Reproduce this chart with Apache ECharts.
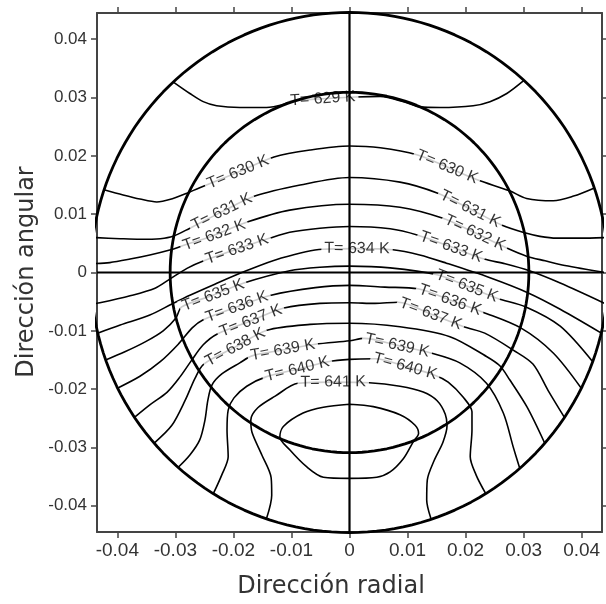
<!DOCTYPE html>
<html>
<head>
<meta charset="utf-8">
<script src="https://cdn.jsdelivr.net/npm/echarts@6/dist/echarts.min.js"></script>
<style>
  html, body { margin: 0; padding: 0; background: #ffffff; }
  #chart { width: 606px; height: 604px; }
</style>
</head>
<body>
<div id="chart"></div>
<script>
// Axis extents and tick values
const xRange = [-0.0435, 0.0435];
const yRange = [-0.0445, 0.0445];
const tickValues = [-0.04, -0.03, -0.02, -0.01, 0, 0.01, 0.02, 0.03, 0.04];

// Radii of the two boundary circles (inner tube wall, outer wall)
const ringRadii = [0.0309, 0.0446];

// Isotherms [radial, angular]
const iso629 = [[-0.0304,0.0327],[-0.0275,0.0307],[-0.0252,0.0293],[-0.0229,0.0286],[-0.0189,0.0283],[-0.0143,0.0283],[-0.0114,0.0288],[-0.0101,0.0294],[-0.0046,0.0298],[0.0011,0.0301],[0.0053,0.0302],[0.0096,0.0292],[0.0121,0.0284],[0.0156,0.0283],[0.0213,0.0286],[0.0242,0.0293],[0.0271,0.0307],[0.0300,0.0329]];
const iso630 = [[-0.0423,0.0142],[-0.0390,0.0133],[-0.0361,0.0126],[-0.0332,0.0121],[-0.0304,0.0127],[-0.0280,0.0136],[-0.0259,0.0145],[-0.0192,0.0172],[-0.0130,0.0198],[-0.0068,0.0210],[0,0.0217],[0.0053,0.0214],[0.0116,0.0202],[0.0168,0.0181],[0.0220,0.0159],[0.0276,0.0140],[0.0305,0.0127],[0.0351,0.0123],[0.0386,0.0131],[0.0422,0.0145]];
const iso631 = [[-0.0442,0.0060],[-0.0395,0.0058],[-0.0361,0.0057],[-0.0326,0.0058],[-0.0304,0.0062],[-0.0275,0.0076],[-0.0220,0.0104],[-0.0163,0.0131],[-0.0085,0.0150],[0,0.0163],[0.0087,0.0155],[0.0152,0.0136],[0.0208,0.0109],[0.0263,0.0081],[0.0302,0.0068],[0.0328,0.0062],[0.0357,0.0059],[0.0397,0.0059],[0.0442,0.0060]];
const iso632 = [[-0.0445,0.0015],[-0.0413,0.0017],[-0.0378,0.0023],[-0.0344,0.0030],[-0.0308,0.0039],[-0.0290,0.0045],[-0.0233,0.0064],[-0.0175,0.0087],[-0.0103,0.0107],[0,0.0117],[0.0087,0.0112],[0.0161,0.0093],[0.0216,0.0068],[0.0271,0.0042],[0.0305,0.0028],[0.0337,0.0020],[0.0371,0.0012],[0.0446,-0.0001]];
const iso633 = [[-0.0443,-0.0054],[-0.0430,-0.0052],[-0.0378,-0.0040],[-0.0335,-0.0027],[-0.0309,-0.0011],[-0.0280,0.0007],[-0.0251,0.0020],[-0.0194,0.0040],[-0.0137,0.0059],[-0.0103,0.0069],[-0.0051,0.0076],[0,0.0079],[0.0070,0.0075],[0.0118,0.0064],[0.0175,0.0044],[0.0232,0.0023],[0.0268,0.0015],[0.0310,0.0003],[0.0363,-0.0018],[0.0442,-0.0054]];
const iso634 = [[-0.0434,-0.0104],[-0.0395,-0.0090],[-0.0344,-0.0073],[-0.0306,-0.0054],[-0.0275,-0.0039],[-0.0232,-0.0020],[-0.0180,0.0002],[-0.0120,0.0024],[-0.0047,0.0040],[0.0013,0.0041],[0.0075,0.0039],[0.0121,0.0030],[0.0167,0.0016],[0.0242,-0.0009],[0.0308,-0.0035],[0.0363,-0.0063],[0.0434,-0.0104]];
const iso635 = [[-0.0420,-0.0150],[-0.0387,-0.0136],[-0.0352,-0.0119],[-0.0321,-0.0100],[-0.0299,-0.0078],[-0.0289,-0.0059],[-0.0235,-0.0039],[-0.0182,-0.0018],[-0.0103,0.0003],[-0.0051,0.0009],[0,0.0011],[0.0070,0.0008],[0.0151,-0.0004],[0.0202,-0.0023],[0.0254,-0.0044],[0.0304,-0.0059],[0.0363,-0.0092],[0.0419,-0.0153]];
const iso636 = [[-0.0399,-0.0198],[-0.0361,-0.0178],[-0.0326,-0.0153],[-0.0295,-0.0123],[-0.0271,-0.0095],[-0.0252,-0.0081],[-0.0194,-0.0059],[-0.0135,-0.0039],[-0.0059,-0.0026],[0,-0.0022],[0.0061,-0.0025],[0.0118,-0.0028],[0.0173,-0.0047],[0.0230,-0.0068],[0.0295,-0.0095],[0.0351,-0.0138],[0.0399,-0.0198]];
const iso637 = [[-0.0370,-0.0248],[-0.0344,-0.0227],[-0.0314,-0.0205],[-0.0292,-0.0179],[-0.0273,-0.0152],[-0.0252,-0.0124],[-0.0227,-0.0105],[-0.0170,-0.0083],[-0.0113,-0.0061],[-0.0051,-0.0053],[0,-0.0052],[0.0044,-0.0053],[0.0084,-0.0051],[0.0140,-0.0071],[0.0197,-0.0093],[0.0233,-0.0104],[0.0282,-0.0133],[0.0316,-0.0157],[0.0342,-0.0202],[0.0370,-0.0248]];
const iso638 = [[-0.0336,-0.0292],[-0.0306,-0.0262],[-0.0283,-0.0219],[-0.0266,-0.0181],[-0.0251,-0.0157],[-0.0197,-0.0128],[-0.0142,-0.0099],[-0.0068,-0.0089],[0,-0.0087],[0.0087,-0.0093],[0.0173,-0.0110],[0.0236,-0.0144],[0.0259,-0.0160],[0.0276,-0.0184],[0.0306,-0.0231],[0.0336,-0.0292]];
const iso639 = [[-0.0295,-0.0334],[-0.0275,-0.0313],[-0.0258,-0.0287],[-0.0249,-0.0253],[-0.0244,-0.0219],[-0.0237,-0.0193],[-0.0220,-0.0174],[-0.0189,-0.0155],[-0.0168,-0.0143],[-0.0115,-0.0133],[-0.0059,-0.0123],[0,-0.0117],[0.0025,-0.0113],[0.0082,-0.0125],[0.0140,-0.0138],[0.0190,-0.0155],[0.0236,-0.0190],[0.0265,-0.0241],[0.0282,-0.0299],[0.0293,-0.0335]];
const iso640 = [[-0.0234,-0.0378],[-0.0220,-0.0347],[-0.0209,-0.0316],[-0.0211,-0.0270],[-0.0209,-0.0236],[-0.0199,-0.0215],[-0.0177,-0.0195],[-0.0144,-0.0179],[-0.0090,-0.0166],[-0.0037,-0.0153],[0,-0.0149],[0.0044,-0.0148],[0.0096,-0.0161],[0.0147,-0.0176],[0.0170,-0.0188],[0.0196,-0.0214],[0.0211,-0.0239],[0.0211,-0.0270],[0.0208,-0.0316],[0.0218,-0.0347],[0.0234,-0.0378]];
const iso641 = [[-0.0143,-0.0422],[-0.0134,-0.0382],[-0.0135,-0.0352],[-0.0151,-0.0313],[-0.0168,-0.0274],[-0.0170,-0.0253],[-0.0158,-0.0232],[-0.0128,-0.0212],[-0.0089,-0.0190],[-0.0028,-0.0188],[0.0034,-0.0189],[0.0087,-0.0195],[0.0127,-0.0205],[0.0151,-0.0220],[0.0165,-0.0243],[0.0168,-0.0263],[0.0161,-0.0291],[0.0146,-0.0322],[0.0134,-0.0356],[0.0133,-0.0390],[0.0140,-0.0421]];
const iso642 = [[0,-0.0226],[0.0041,-0.0230],[0.0087,-0.0244],[0.0113,-0.0262],[0.0119,-0.0276],[0.0110,-0.0290],[0.0093,-0.0319],[0.0070,-0.0342],[0.0047,-0.0351],[0,-0.0353],[-0.0045,-0.0351],[-0.0074,-0.0333],[-0.0103,-0.0304],[-0.0120,-0.0282],[-0.0114,-0.0264],[-0.0080,-0.0241],[-0.0045,-0.0231],[0,-0.0226]];

// Which vertex of each isotherm carries a "T= ... K" label
const isotherms = [
  { T: 629, pts: iso629, at: [8] },
  { T: 630, pts: iso630, at: [7, 13] },
  { T: 631, pts: iso631, at: [6, 12] },
  { T: 632, pts: iso632, at: [6, 12] },
  { T: 633, pts: iso633, at: [7, 14] },
  { T: 634, pts: iso634, at: [9] },
  { T: 635, pts: iso635, at: [6, 13] },
  { T: 636, pts: iso636, at: [6, 12] },
  { T: 637, pts: iso637, at: [7, 13] },
  { T: 638, pts: iso638, at: [5] },
  { T: 639, pts: iso639, at: [9, 13] },
  { T: 640, pts: iso640, at: [8, 12] },
  { T: 641, pts: iso641, at: [9] },
  { T: 642, pts: iso642, at: [] }
];

const chart = echarts.init(document.getElementById('chart'), null, { renderer: 'canvas' });

const axisColor = '#444';
const tickFont = 'Liberation Sans, Arial, sans-serif';

function circlePoints(r) {
  const pts = [];
  for (let a = 0; a <= 360; a += 2) {
    const t = a * Math.PI / 180;
    pts.push([r * Math.cos(t), r * Math.sin(t)]);
  }
  return pts;
}

const series = [];

isotherms.forEach(iso => {
  series.push({
    type: 'line',
    name: 'T' + iso.T,
    data: iso.pts,
    showSymbol: false,
    symbol: 'none',
    smooth: 0.3,
    clip: true,
    silent: true,
    z: 2,
    lineStyle: { color: '#000', width: 1.6 }
  });
});

ringRadii.forEach((r, i) => {
  series.push({
    type: 'line',
    name: 'ring' + i,
    data: circlePoints(r),
    showSymbol: false,
    symbol: 'none',
    clip: false,
    silent: true,
    z: 4,
    lineStyle: { color: '#000', width: 2.8 }
  });
});

// Cross through the tube centre
series.push({
  type: 'line', name: 'vcross', data: [[0, yRange[0]], [0, yRange[1]]],
  showSymbol: false, symbol: 'none', silent: true, z: 4,
  lineStyle: { color: '#000', width: 2.2 }
});
series.push({
  type: 'line', name: 'hcross', data: [[xRange[0], 0], [xRange[1], 0]],
  showSymbol: false, symbol: 'none', silent: true, z: 4,
  lineStyle: { color: '#000', width: 2.2 }
});

function baseAxis(extra) {
  return Object.assign({
    type: 'value',
    splitLine: { show: false },
    axisLine: { show: true, onZero: false, lineStyle: { color: axisColor, width: 2 } },
    axisTick: { show: true, inside: false, length: 6, customValues: tickValues, lineStyle: { color: axisColor, width: 1.5 } },
    axisLabel: { show: false }
  }, extra);
}

const option = {
  animation: false,
  backgroundColor: '#ffffff',
  grid: { left: 97, right: 4, top: 13, bottom: 72, containLabel: false },
  xAxis: [
    baseAxis({
      min: xRange[0], max: xRange[1], position: 'bottom',
      axisLabel: { show: true, customValues: tickValues, margin: 9, color: '#333', fontFamily: tickFont, fontSize: 19 }
    }),
    baseAxis({ min: xRange[0], max: xRange[1], position: 'top' })
  ],
  yAxis: [
    baseAxis({
      min: yRange[0], max: yRange[1], position: 'left',
      axisLabel: { show: true, customValues: tickValues, margin: 10, color: '#333', fontFamily: tickFont, fontSize: 17 }
    }),
    baseAxis({ min: yRange[0], max: yRange[1], position: 'right' })
  ],
  graphic: [
    {
      type: 'text', x: 331, y: 587, silent: true,
      style: { text: 'Dirección radial', fill: '#333', font: '24px "DejaVu Sans", sans-serif',
               textAlign: 'center', textVerticalAlign: 'middle', align: 'center', verticalAlign: 'middle' }
    },
    {
      type: 'text', x: 27, y: 272, rotation: Math.PI / 2, silent: true,
      style: { text: 'Dirección angular', fill: '#333', font: '24px "DejaVu Sans", sans-serif',
               textAlign: 'center', textVerticalAlign: 'middle', align: 'center', verticalAlign: 'middle' }
    }
  ],
  series: series
};

chart.setOption(option);

// Labels sit on the isotherm vertex and follow the local direction of the line
const labelData = [];
isotherms.forEach(iso => {
  iso.at.forEach(i => {
    const a = chart.convertToPixel({ gridIndex: 0 }, iso.pts[i - 1]);
    const b = chart.convertToPixel({ gridIndex: 0 }, iso.pts[i + 1]);
    const ang = -Math.atan2(b[1] - a[1], b[0] - a[0]) * 180 / Math.PI;
    labelData.push({ name: 'T= ' + iso.T + ' K', value: iso.pts[i], label: { rotate: ang } });
  });
});

series.push({
  type: 'scatter',
  name: 'labels',
  data: labelData,
  symbolSize: 1,
  silent: true,
  z: 3,
  itemStyle: { color: 'rgba(0,0,0,0)' },
  label: {
    show: true,
    position: 'inside',
    formatter: p => p.name,
    fontFamily: tickFont,
    fontSize: 16,
    color: '#000',
    backgroundColor: '#ffffff',
    padding: [0, 3],
    lineHeight: 14
  }
});

chart.setOption({ series: series });
</script>
</body>
</html>
